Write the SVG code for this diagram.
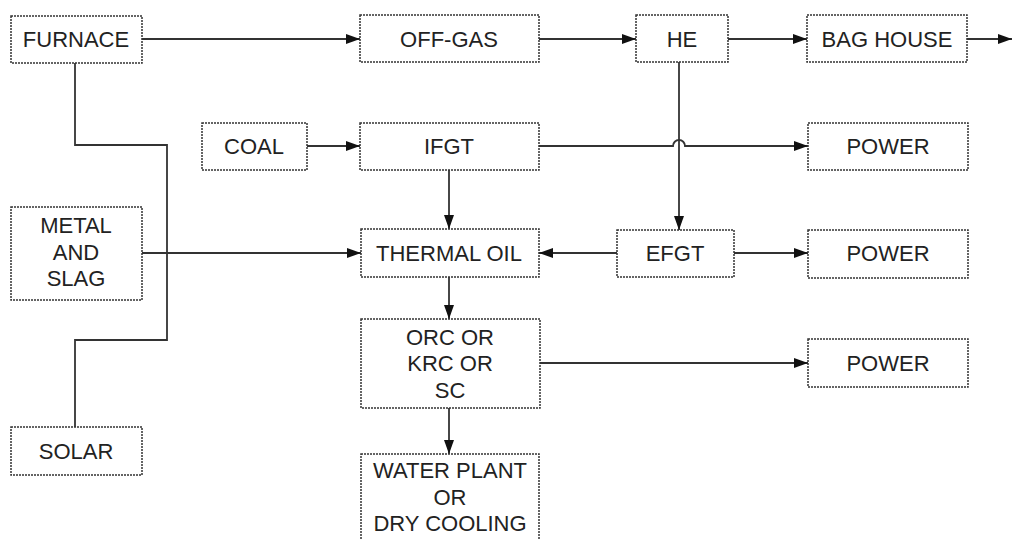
<svg xmlns="http://www.w3.org/2000/svg" width="1012" height="539" viewBox="0 0 1012 539">
<style>
.box{fill:#fff;stroke:#333;stroke-width:1.5;stroke-dasharray:2 1}
.t{font-family:"Liberation Sans",Arial,sans-serif;font-size:22px;fill:#222;text-anchor:middle;dominant-baseline:central}
.c{fill:none;stroke:#333;stroke-width:1.8}
</style>
<defs>
<marker id="a" viewBox="0 0 14 10" refX="14" refY="5" markerWidth="14" markerHeight="10" markerUnits="userSpaceOnUse" orient="auto">
<path d="M0,0 L14,5 L0,10 z" fill="#111"/>
</marker>
</defs>
<rect width="1012" height="539" fill="#fff"/>
<g id="connectors">
<path class="c" d="M142,39 H360" marker-end="url(#a)"/>
<path class="c" d="M539,39 H636" marker-end="url(#a)"/>
<path class="c" d="M728,39 H807" marker-end="url(#a)"/>
<path class="c" d="M967,39 H1012" marker-end="url(#a)"/>
<path class="c" d="M75,63 V145 H167 V340 H75 V427"/>
<path class="c" d="M307,146 H360" marker-end="url(#a)"/>
<path class="c" d="M539,146 H673 A6,6 0 0 1 685,146 H808" marker-end="url(#a)"/>
<path class="c" d="M679,62 V230" marker-end="url(#a)"/>
<path class="c" d="M617,253 H539" marker-end="url(#a)"/>
<path class="c" d="M734,253 H808" marker-end="url(#a)"/>
<path class="c" d="M142,253 H361" marker-end="url(#a)"/>
<path class="c" d="M449,170 V229" marker-end="url(#a)"/>
<path class="c" d="M449,277 V319" marker-end="url(#a)"/>
<path class="c" d="M540,363 H808" marker-end="url(#a)"/>
<path class="c" d="M449,408 V454" marker-end="url(#a)"/>
</g>
<g id="furnace"><rect class="box" x="11" y="16" width="131" height="47"/><text class="t" x="76" y="39">FURNACE</text></g>
<g id="offgas"><rect class="box" x="360" y="15" width="179" height="47"/><text class="t" x="449" y="39">OFF-GAS</text></g>
<g id="he"><rect class="box" x="636" y="15" width="92" height="47"/><text class="t" x="682" y="39">HE</text></g>
<g id="baghouse"><rect class="box" x="807" y="15" width="160" height="47"/><text class="t" x="887" y="39">BAG HOUSE</text></g>
<g id="coal"><rect class="box" x="202" y="123" width="105" height="47"/><text class="t" x="254" y="146">COAL</text></g>
<g id="ifgt"><rect class="box" x="360" y="123" width="179" height="47"/><text class="t" x="449" y="146">IFGT</text></g>
<g id="power1"><rect class="box" x="808" y="123" width="160" height="47"/><text class="t" x="888" y="146">POWER</text></g>
<g id="metalslag"><rect class="box" x="11" y="207" width="131" height="93"/><text class="t" x="76" y="225">METAL</text><text class="t" x="76" y="252">AND</text><text class="t" x="76" y="278">SLAG</text></g>
<g id="thermaloil"><rect class="box" x="361" y="229" width="178" height="48"/><text class="t" x="449" y="253">THERMAL OIL</text></g>
<g id="efgt"><rect class="box" x="617" y="230" width="117" height="47"/><text class="t" x="675" y="253">EFGT</text></g>
<g id="power2"><rect class="box" x="808" y="230" width="160" height="48"/><text class="t" x="888" y="253">POWER</text></g>
<g id="orc"><rect class="box" x="361" y="319" width="179" height="89"/><text class="t" x="450" y="337">ORC OR</text><text class="t" x="450" y="363">KRC OR</text><text class="t" x="450" y="390">SC</text></g>
<g id="power3"><rect class="box" x="808" y="339" width="160" height="48"/><text class="t" x="888" y="363">POWER</text></g>
<g id="solar"><rect class="box" x="11" y="427" width="131" height="48"/><text class="t" x="76" y="451">SOLAR</text></g>
<g id="water"><rect class="box" x="361" y="454" width="178" height="100"/><text class="t" x="450" y="470">WATER PLANT</text><text class="t" x="450" y="497">OR</text><text class="t" x="450" y="523">DRY COOLING</text></g>
</svg>
